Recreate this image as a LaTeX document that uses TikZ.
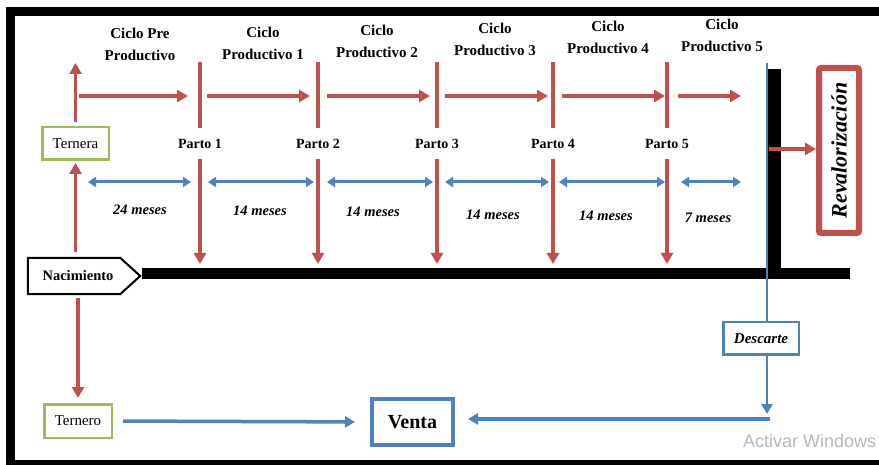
\documentclass[tikz,border=0pt]{standalone}
\usepackage{fontspec}
\setmainfont{Liberation Serif}
\newfontfamily\wmfont{Liberation Sans}
\usetikzlibrary{arrows.meta,calc}
\definecolor{cred}{HTML}{C0504D}
\definecolor{cblue}{HTML}{4F81BD}
\definecolor{cgreen}{HTML}{9BBB59}
\begin{document}
\begin{tikzpicture}[x=1pt,y=-1pt,
 lbl/.style={font=\fontsize{15}{22}\selectfont\bfseries, align=center, inner sep=0pt},
 meses/.style={font=\fontsize{14.5}{17}\selectfont\bfseries\itshape, inner sep=0pt},
 parto/.style={font=\fontsize{14}{16}\selectfont\bfseries, inner sep=0pt, minimum height=30pt},
 redln/.style={draw=cred, line width=3.5pt},
 redarr/.style={redln, -{Triangle[length=11pt,width=12pt]}},
 bluedbl/.style={draw=cblue, line width=3pt, {Triangle[length=8pt,width=10pt]}-{Triangle[length=8pt,width=10pt]}},
 bluearr/.style={draw=cblue, line width=3.5pt, -{Triangle[length=10pt,width=11pt]}},
 greenbox/.style={draw=cgreen, line width=2.5pt, font=\fontsize{15}{17}\selectfont, inner sep=0pt},
 bluebox/.style={draw=cblue, line width=2.5pt, inner sep=0pt},
]
\useasboundingbox (0,0) rectangle (879,465);
\clip (0,0) rectangle (879,465);
% frame
\draw[line width=9pt] (890,11.5) -- (10.5,11.5) -- (10.5,464.5) -- (890,464.5);

% cycle labels
\node[lbl] (c0) at (140,44) {Ciclo Pre\\Productivo};
\node[lbl] (c1) at (263,43) {Ciclo\\Productivo 1};
\node[lbl] (c2) at (377,41) {Ciclo\\Productivo 2};
\node[lbl] (c3) at (495,39) {Ciclo\\Productivo 3};
\node[lbl] (c4) at (608,37) {Ciclo\\Productivo 4};
\node[lbl] (c5) at (722,35) {Ciclo\\Productivo 5};

% partos and separators
\foreach \i/\x in {1/200,2/318,3/437,4/553,5/667}{
  \node[parto] (p\i) at (\x,143.5) {Parto \i};
  \coordinate (t\i) at (\x,62);
  \coordinate (b\i) at (\x,264);
  \draw[redln] (t\i) -- (p\i.north);
  \draw[redarr] (p\i.south) -- (b\i);
}

% red horizontal arrows
\foreach \a/\b in {79/188,207/310,327/430,445/548,562/665,678/741}{
  \coordinate (ra\a) at (\a,96);
  \coordinate (rb\a) at (\b,96);
  \draw[redarr] (ra\a) -- (rb\a);
}
% blue double arrows
\foreach \a/\b in {88/191,208/314,327/433,445/549,559/665,681/741}{
  \coordinate (ba\a) at (\a,182);
  \coordinate (bb\a) at (\b,182);
  \draw[bluedbl] (ba\a) -- (bb\a);
}
% meses labels
\node[meses] (m0) at (140,210) {24 meses};
\node[meses] (m1) at (260,211) {14 meses};
\node[meses] (m2) at (373,212) {14 meses};
\node[meses] (m3) at (493,215) {14 meses};
\node[meses] (m4) at (606,216) {14 meses};
\node[meses] (m5) at (708,218) {7 meses};

% left boxes
\node[greenbox, minimum width=66.5pt, minimum height=32.5pt] (ternera) at (75.5,143.5) {Ternera};
\node[greenbox, minimum width=67.5pt, minimum height=33.5pt] (ternero) at (78,421) {Ternero};
\node[minimum width=100pt, minimum height=36pt, inner sep=0pt, font=\fontsize{14.5}{17}\selectfont\bfseries] (nac) at (78,276) {Nacimiento};
\draw[line width=2pt, line join=miter] (nac.north west) -- ($(nac.north east)+(-8,0)$) -- ($(nac.east)+(12,0)$) -- ($(nac.south east)+(-8,0)$) -- (nac.south west) -- cycle;

% timeline and bar
\coordinate (tlend) at (850,274);
\draw[line width=11pt] ($(nac.east)+(14,-2)$) -- (tlend);
\fill (768,69) rectangle (781,279);

% red connectors on the left
\coordinate (tup) at (75.5,63);
\draw[redarr, shorten <=4pt] (ternera.north) -- (tup);
\draw[redarr, shorten <=6pt, shorten >=2pt] (nac.north -| ternera.south) -- (ternera.south);
\draw[redarr, shorten <=4pt, shorten >=5pt] (nac.south -| ternero.north) -- (ternero.north);

% revalorizacion
\node[draw=cred, line width=6pt, rounded corners=2pt, minimum width=40pt, minimum height=165pt, inner sep=0pt, font=\fontsize{22}{24}\selectfont\bfseries\itshape] (rev) at (839,150.5) {\rotatebox{90}{Revalorización}};
\coordinate (rv0) at (769,149);
\draw[redarr] (rv0) -- (rv0 -| rev.west);

% venta, descarte
\node[draw=cblue, line width=4pt, minimum width=81pt, minimum height=46pt, inner sep=0pt, font=\fontsize{20}{22}\selectfont\bfseries] (venta) at (412.5,422) {Venta};
\node[bluebox, minimum width=75.5pt, minimum height=32.5pt, font=\fontsize{15}{16}\selectfont\bfseries\itshape] (desc) at (761,338.5) {Descarte};
\coordinate (btop) at (767,63);
\coordinate (bturn) at (767,419);
\draw[draw=cblue, line width=2.5pt] (btop) -- (btop |- desc.north);
\draw[bluearr, line width=2.5pt] (btop |- desc.south) -- ($(bturn)+(0,-5)$);
\draw[bluearr, shorten >=13pt] ($(bturn)+(3,0)$) -- (venta.east |- bturn);
\draw[bluearr, shorten <=10pt, shorten >=15pt] (ternero.east) -- (venta.west);

% watermark
\node[font=\fontsize{18}{20}\selectfont\wmfont, text=black!28, anchor=west, inner sep=0pt] (wm) at (743,441) {Activar Windows};
\end{tikzpicture}
\end{document}
